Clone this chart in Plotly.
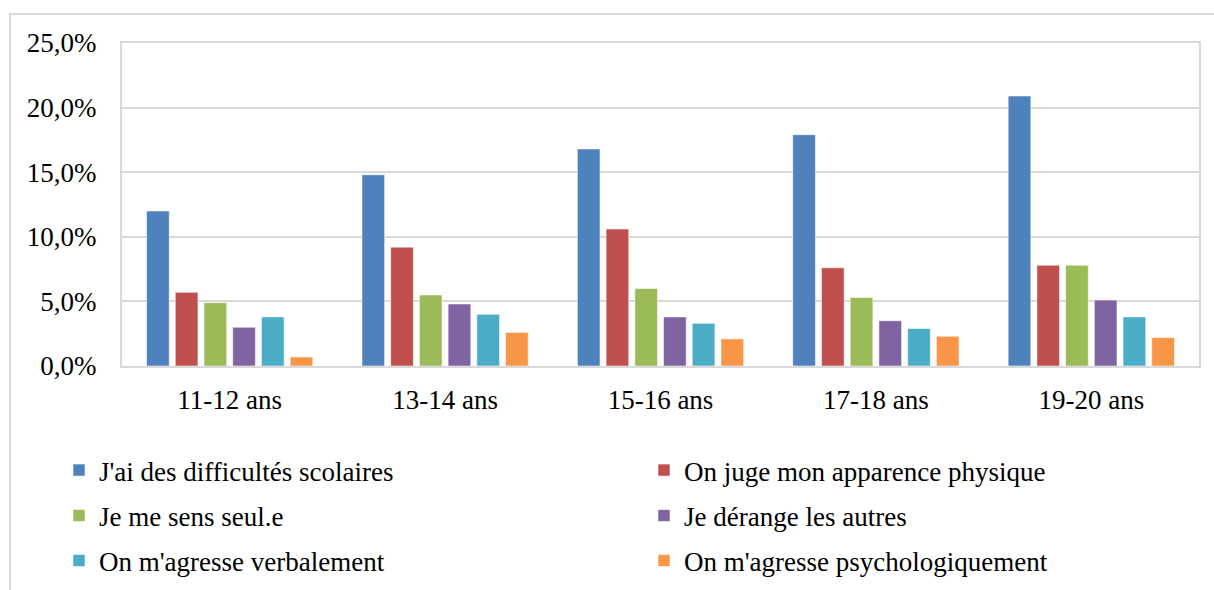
import plotly.graph_objects as go

# Age groups on the category axis
age_groups = ["11-12 ans", "13-14 ans", "15-16 ans", "17-18 ans", "19-20 ans"]

# Share of respondents (%) per reason, one list per series
difficultes_scolaires = [12.0, 14.8, 16.8, 17.9, 20.9]
apparence_physique = [5.7, 9.2, 10.6, 7.6, 7.8]
seul_e = [4.9, 5.5, 6.0, 5.3, 7.8]
derange_autres = [3.0, 4.8, 3.8, 3.5, 5.1]
agresse_verbalement = [3.8, 4.0, 3.3, 2.9, 3.8]
agresse_psychologiquement = [0.7, 2.6, 2.1, 2.3, 2.2]

series_names = [
    "J'ai des difficultés scolaires",
    "On juge mon apparence physique",
    "Je me sens seul.e",
    "Je dérange les autres",
    "On m'agresse verbalement",
    "On m'agresse psychologiquement",
]
series_values = [
    difficultes_scolaires,
    apparence_physique,
    seul_e,
    derange_autres,
    agresse_verbalement,
    agresse_psychologiquement,
]
colors = ["#4F81BD", "#C0504D", "#9BBB59", "#8064A2", "#4BACC6", "#F79646"]
# two legend entries per row, one legend object per row
legend_rows = ["legend", "legend", "legend2", "legend2", "legend3", "legend3"]

y_ticks = [0, 5, 10, 15, 20, 25]
y_tick_labels = ["0,0%", "5,0%", "10,0%", "15,0%", "20,0%", "25,0%"]

FONT = "Liberation Serif"
GRID = "#D9D9D9"

fig = go.Figure()
for name, vals, col, lg in zip(series_names, series_values, colors, legend_rows):
    fig.add_trace(go.Bar(
        x=age_groups,
        y=vals,
        name=name,
        legend=lg,
        marker=dict(color=col, line=dict(color="rgba(255,255,255,0.55)", width=1)),
        hoverinfo="skip",
    ))

W, H = 1214, 590
L, R, T, B = 122, 15, 43, 224
pw = W - L - R
ph = H - T - B


def px_x(px):
    return (px - L) / pw


def px_y(py):
    return (H - B - py) / ph


def legend_row(center_py):
    return dict(
        orientation="h",
        x=px_x(59),
        xanchor="left",
        y=px_y(center_py),
        yanchor="middle",
        entrywidth=540,
        traceorder="normal",
        font=dict(family=FONT, size=27, color="#000000"),
        bgcolor="rgba(0,0,0,0)",
    )


fig.update_layout(
    width=W,
    height=H,
    margin=dict(l=L, r=R, t=T, b=B, pad=0, autoexpand=False),
    paper_bgcolor="white",
    plot_bgcolor="white",
    barmode="group",
    bargap=0.2,
    bargroupgap=0.21,
    font=dict(family=FONT, size=27, color="#000000"),
    showlegend=True,
    legend=legend_row(470.5),
    legend2=legend_row(516),
    legend3=legend_row(561),
    xaxis=dict(
        showgrid=False,
        showline=True,
        linecolor=GRID,
        linewidth=2,
        mirror=True,
        ticks="",
        tickfont=dict(family=FONT, size=27, color="#000000"),
        ticklabelstandoff=9,
        fixedrange=True,
    ),
    yaxis=dict(
        range=[0, 25],
        tickvals=y_ticks,
        ticktext=y_tick_labels,
        showgrid=True,
        gridcolor=GRID,
        gridwidth=2,
        zeroline=False,
        showline=True,
        linecolor=GRID,
        linewidth=2,
        mirror=True,
        ticks="",
        tickfont=dict(family=FONT, size=27, color="#000000"),
        ticklabelstandoff=18,
        fixedrange=True,
    ),
)

# Outer chart frame
fig.add_shape(
    type="rect",
    xref="paper", yref="paper",
    x0=px_x(10), x1=px_x(1218),
    y0=px_y(600), y1=px_y(14),
    line=dict(color=GRID, width=2),
    fillcolor="rgba(0,0,0,0)",
    layer="below",
)

fig.write_html("out.html")
